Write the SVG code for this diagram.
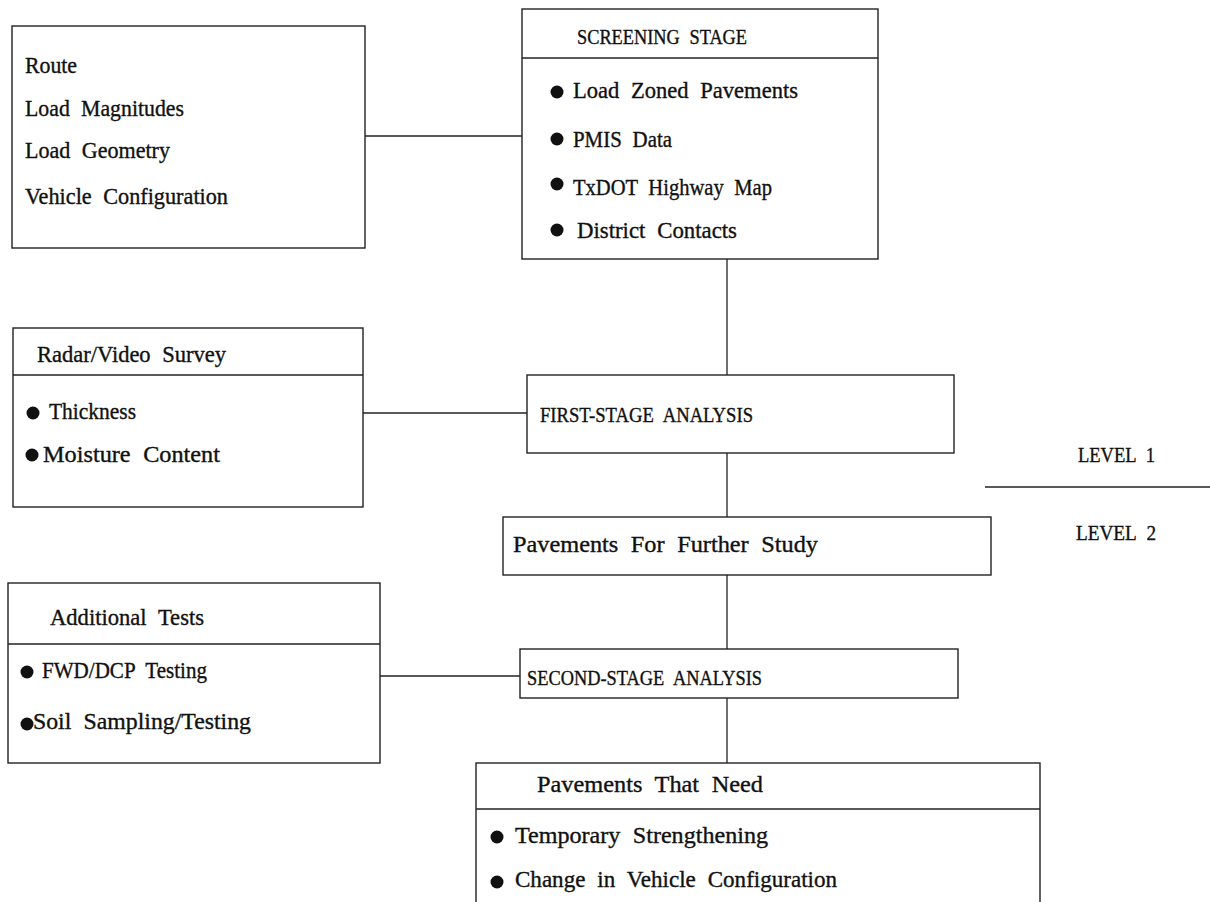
<svg xmlns="http://www.w3.org/2000/svg" width="1210" height="902" viewBox="0 0 1210 902">
<style>
.box{fill:#fff;stroke:#222;stroke-width:1.4}
.div{stroke:#222;stroke-width:1.4}
.con{stroke:#222;stroke-width:1.3;fill:none}
.t{font-family:"Liberation Serif","Times New Roman",serif;font-size:22.5px;fill:#111;stroke:#111;stroke-width:0.35;word-spacing:6px}
.h{font-family:"Liberation Serif","Times New Roman",serif;font-size:21px;fill:#111;stroke:#111;stroke-width:0.35;word-spacing:6px}
.b{fill:#111}
</style>
<rect width="1210" height="902" fill="#fff"/>
<g id="connectors">
<line class="con" x1="365" y1="136" x2="522" y2="136"/>
<line class="con" x1="727" y1="259" x2="727" y2="375"/>
<line class="con" x1="363" y1="413" x2="527" y2="413"/>
<line class="con" x1="727" y1="453" x2="727" y2="517"/>
<line class="con" x1="727" y1="575" x2="727" y2="649"/>
<line class="con" x1="380" y1="676" x2="520" y2="676"/>
<line class="con" x1="727" y1="698" x2="727" y2="763"/>
</g>
<g id="inputs">
<rect class="box" x="12" y="26" width="353" height="222"/>
<text class="t" x="25" y="73" textLength="52" lengthAdjust="spacingAndGlyphs">Route</text>
<text class="t" x="25" y="116" textLength="159" lengthAdjust="spacingAndGlyphs">Load Magnitudes</text>
<text class="t" x="25" y="158" textLength="145" lengthAdjust="spacingAndGlyphs">Load Geometry</text>
<text class="t" x="25" y="204" textLength="203" lengthAdjust="spacingAndGlyphs">Vehicle Configuration</text>
</g>
<g id="screening">
<rect class="box" x="522" y="9" width="356" height="250"/>
<line class="div" x1="522" y1="58" x2="878" y2="58"/>
<text class="h" x="577" y="44" textLength="170" lengthAdjust="spacingAndGlyphs">SCREENING STAGE</text>
<circle class="b" cx="557" cy="92" r="6.5"/>
<text class="t" x="573" y="98" textLength="225" lengthAdjust="spacingAndGlyphs">Load Zoned Pavements</text>
<circle class="b" cx="557" cy="139" r="6.5"/>
<text class="t" x="573" y="147" textLength="99" lengthAdjust="spacingAndGlyphs">PMIS Data</text>
<circle class="b" cx="557" cy="184" r="6.5"/>
<text class="t" x="573" y="195" textLength="199" lengthAdjust="spacingAndGlyphs">TxDOT Highway Map</text>
<circle class="b" cx="557" cy="230" r="6.5"/>
<text class="t" x="577" y="238" textLength="160" lengthAdjust="spacingAndGlyphs">District Contacts</text>
</g>
<g id="radar">
<rect class="box" x="13" y="328" width="350" height="179"/>
<line class="div" x1="13" y1="375" x2="363" y2="375"/>
<text class="t" x="37" y="362" textLength="189" lengthAdjust="spacingAndGlyphs">Radar/Video Survey</text>
<circle class="b" cx="33" cy="413" r="6.5"/>
<text class="t" x="49" y="419" textLength="87" lengthAdjust="spacingAndGlyphs">Thickness</text>
<circle class="b" cx="32" cy="455" r="6.5"/>
<text class="t" x="43" y="462" textLength="177" lengthAdjust="spacingAndGlyphs">Moisture Content</text>
</g>
<g id="first-stage">
<rect class="box" x="527" y="375" width="427" height="78"/>
<text class="h" x="540" y="422" textLength="213" lengthAdjust="spacingAndGlyphs">FIRST-STAGE ANALYSIS</text>
</g>
<g id="levels">
<text class="h" x="1078" y="462" textLength="77" lengthAdjust="spacingAndGlyphs">LEVEL 1</text>
<line class="con" x1="985" y1="487" x2="1210" y2="487"/>
<text class="h" x="1076" y="540" textLength="80" lengthAdjust="spacingAndGlyphs">LEVEL 2</text>
</g>
<g id="further-study">
<rect class="box" x="503" y="517" width="488" height="58"/>
<text class="t" x="513" y="552" textLength="305" lengthAdjust="spacingAndGlyphs">Pavements For Further Study</text>
</g>
<g id="additional">
<rect class="box" x="8" y="583" width="372" height="180"/>
<line class="div" x1="8" y1="644" x2="380" y2="644"/>
<text class="t" x="50" y="625" textLength="154" lengthAdjust="spacingAndGlyphs">Additional Tests</text>
<circle class="b" cx="27" cy="672" r="6.5"/>
<text class="t" x="42" y="678" textLength="165" lengthAdjust="spacingAndGlyphs">FWD/DCP Testing</text>
<circle class="b" cx="27" cy="724" r="6.5"/>
<text class="t" x="33" y="729" textLength="218" lengthAdjust="spacingAndGlyphs">Soil Sampling/Testing</text>
</g>
<g id="second-stage">
<rect class="box" x="520" y="649" width="438" height="49"/>
<text class="h" x="527" y="685" textLength="235" lengthAdjust="spacingAndGlyphs">SECOND-STAGE ANALYSIS</text>
</g>
<g id="need">
<rect class="box" x="476" y="763" width="564" height="160"/>
<line class="div" x1="476" y1="809" x2="1040" y2="809"/>
<text class="t" x="537" y="792" textLength="226" lengthAdjust="spacingAndGlyphs">Pavements That Need</text>
<circle class="b" cx="497" cy="837" r="6.5"/>
<text class="t" x="515" y="843" textLength="253" lengthAdjust="spacingAndGlyphs">Temporary Strengthening</text>
<circle class="b" cx="497" cy="882" r="6.5"/>
<text class="t" x="515" y="887" textLength="322" lengthAdjust="spacingAndGlyphs">Change in Vehicle Configuration</text>
</g>
</svg>
